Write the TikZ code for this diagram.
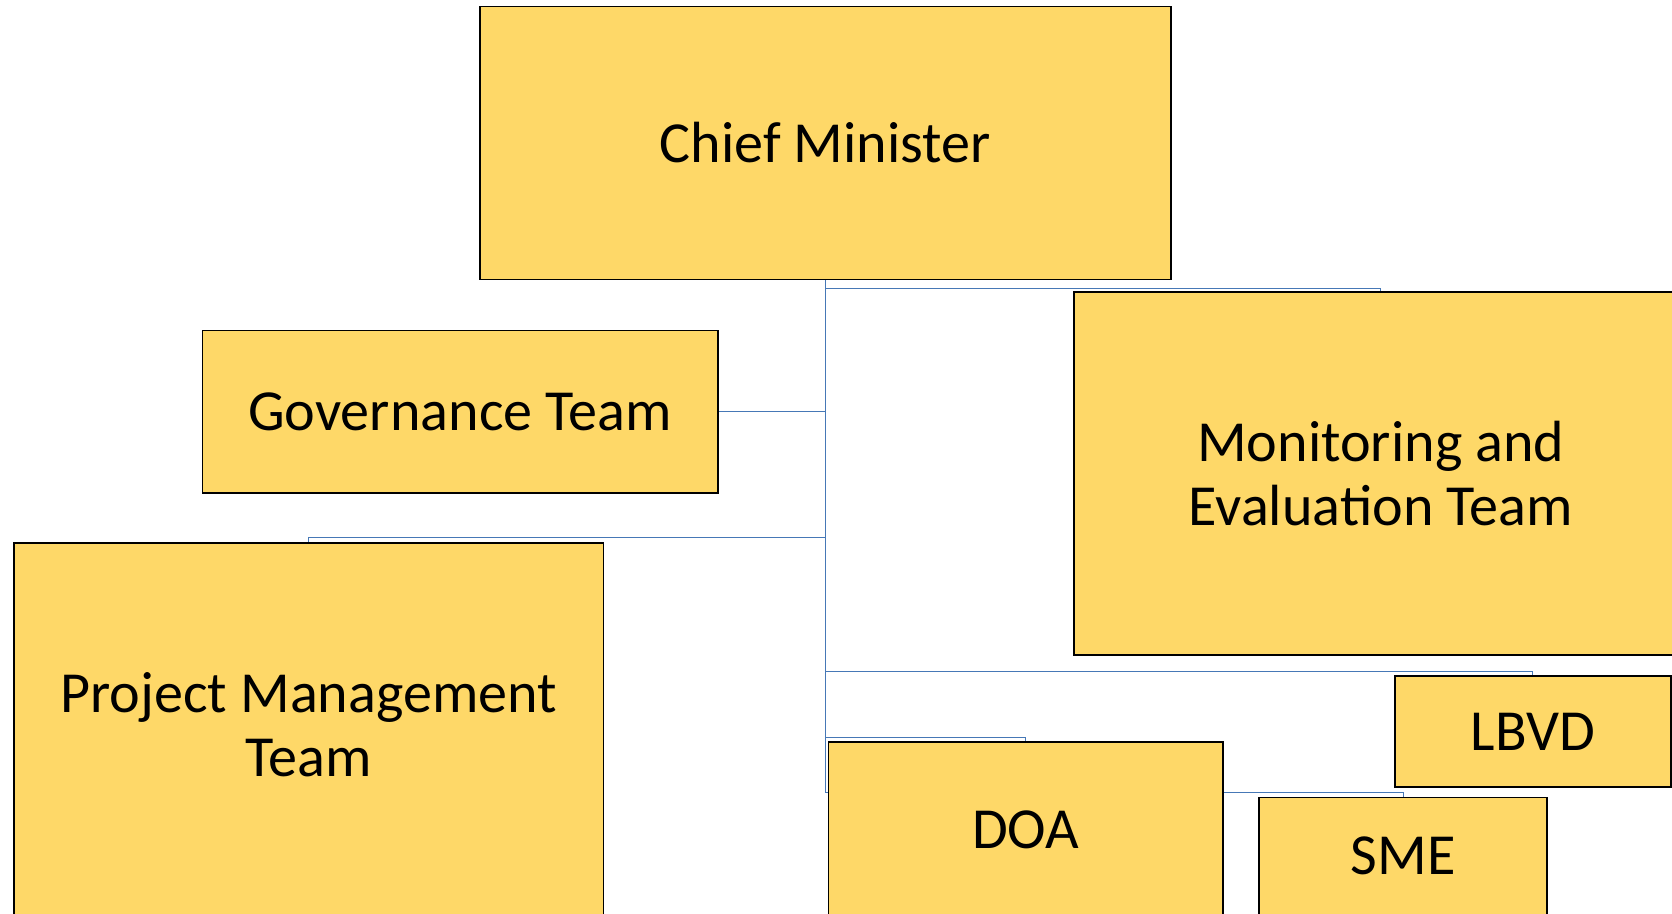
\documentclass[tikz,border=0pt]{standalone}
\usepackage{fontspec}
\setmainfont{Carlito}
\definecolor{boxfill}{RGB}{254,216,104}
\definecolor{connblue}{RGB}{70,120,182}
\begin{document}
\begin{tikzpicture}[x=1pt,y=-1pt,
  boxtxt/.style={align=center,font=\fontsize{54.5}{60}\selectfont},
  box/.style={draw=black,line width=1.6pt,fill=boxfill,inner sep=0pt,boxtxt},
  conn/.style={draw=connblue,line width=1.1pt}]
\useasboundingbox (0,0) rectangle (1568,857);
\clip (0,0) rectangle (1568,857);
\fill[white] (0,0) rectangle (1568,857);
% boxes (placed first so connectors can use them; redrawn on top later)
\node[box,minimum width=648pt,minimum height=256pt] (cm) at (774,134) {Chief Minister};
\node[box,minimum width=483pt,minimum height=152pt] (gov) at (431.5,386) {Governance Team};
\node[box,minimum width=553pt,minimum height=370pt] (pmt) at (289.5,694) {};
\node[box,minimum width=576pt,minimum height=340pt] (me) at (1295,444) {Monitoring and\\Evaluation Team};
\node[box,minimum width=259pt,minimum height=104pt] (lbvd) at (1437.5,686) {LBVD};
\node[box,minimum width=370pt,minimum height=164pt] (doa) at (962,778) {DOA};
\node[box,minimum width=270pt,minimum height=110pt] (sme) at (1316,803) {SME};
% connectors
\coordinate (vend) at (774,743);
\draw[conn] (cm.south) -- (vend);
\draw[conn] (cm.south) -- ++(0,8) -| (me.north);
\draw[conn] (gov.east) -- (gov.east -| cm.south);
\draw[conn] (cm.south |- 0,504) -| (pmt.north);
\draw[conn] (cm.south |- 0,630) -| (lbvd.north);
\draw[conn] (cm.south |- 0,692) -| (doa.north);
\draw[conn] (vend) -| (sme.north);
% redraw boxes on top of connectors
\node[box,minimum width=648pt,minimum height=256pt] at (cm) {Chief Minister};
\node[box,minimum width=483pt,minimum height=152pt] at (gov) {Governance Team};
\node[box,minimum width=553pt,minimum height=370pt] at (pmt) {};
\node[boxtxt] (pmttext) at (289.5,680) {Project Management\\Team};
\node[box,minimum width=576pt,minimum height=340pt] at (me) {Monitoring and\\Evaluation Team};
\node[box,minimum width=259pt,minimum height=104pt] at (lbvd) {LBVD};
\node[box,minimum width=370pt,minimum height=164pt] at (doa) {DOA};
\node[box,minimum width=270pt,minimum height=110pt] at (sme) {SME};
\end{tikzpicture}
\end{document}
